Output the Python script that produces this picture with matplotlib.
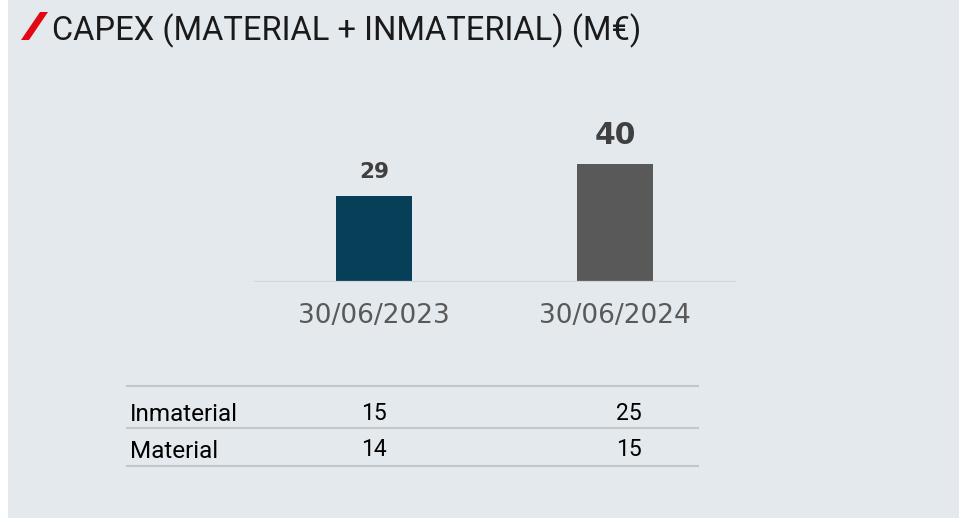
import matplotlib
matplotlib.use('Agg')
import matplotlib.pyplot as plt
from matplotlib import font_manager as fm
from matplotlib.patches import Rectangle, Polygon
from matplotlib.lines import Line2D

# datos
fechas = ['30/06/2023', '30/06/2024']
capex_total = [29, 40]
filas_tabla = ['Inmaterial', 'Material']
inmaterial = [15, 25]
material = [14, 15]

W, H = 959, 518


def fx(px):
    return px / W


def fy(py):
    return 1 - py / H


def fuente_titulo():
    # una fuente estrecha si existe, si no Roboto
    for nombre in ['Liberation Sans Narrow', 'Roboto']:
        try:
            fm.findfont(nombre, fallback_to_default=False)
            return nombre
        except Exception:
            pass
    return 'DejaVu Sans'


fig = plt.figure(figsize=(W / 100, H / 100), dpi=100)
fig.patch.set_facecolor('white')

# fondo gris claro
fig.patches.append(Rectangle((fx(8), 0), 1 - fx(8), 1, transform=fig.transFigure,
                             facecolor='#E4E9ED', edgecolor='none', zorder=-10))

# barra roja del título
fig.patches.append(Polygon([(fx(21), fy(40)), (fx(29), fy(40)), (fx(48), fy(12)), (fx(40), fy(12))],
                           closed=True, transform=fig.transFigure,
                           facecolor='#E30613', edgecolor='none', zorder=2))

tf = fuente_titulo()
tsize = 26 if tf == 'Liberation Sans Narrow' else 23.5
fig.text(fx(52), fy(40), 'CAPEX (MATERIAL + INMATERIAL) (M€)', family=[tf, 'DejaVu Sans'],
         fontsize=tsize, color='#1a1a1a', va='baseline', ha='left')

# ejes de barras
x = list(range(len(fechas)))
ax = fig.add_axes([fx(254), fy(281.5), fx(736) - fx(254), 146.6 / H])
ax.set_zorder(1)
ax.patch.set_alpha(0)
colores = ['#083F58', '#595959']
ax.bar(x, capex_total, width=0.315, color=colores, zorder=2)
ax.set_xlim((254 - 374) / 241, (736 - 374) / 241)
ax.set_ylim(0, 50)
ax.axis('off')
ax.axhline(0, color='#D3D6D9', lw=1.6, zorder=3)

tam_valor = [15.5, 21.5]
sep_valor = [18, 20]
for i, v in enumerate(capex_total):
    ax.annotate(str(v), xy=(x[i], v), xytext=(0, sep_valor[i]), textcoords='offset pixels',
                ha='center', va='baseline', fontsize=tam_valor[i], fontweight='bold',
                color='#404040', annotation_clip=False)
    ax.annotate(fechas[i], xy=(x[i], 0), xytext=(0, -41.5), textcoords='offset pixels',
                ha='center', va='baseline', fontsize=19, color='#595959',
                annotation_clip=False)

# tabla inferior
for py in [386, 428, 466]:
    fig.add_artist(Line2D([fx(127), fx(698)], [fy(py), fy(py)], transform=fig.transFigure,
                          color='#C4C7CA', lw=1.5))

col_x = [374, 629]
base_y = [421, 458]
for fila, vals, by in zip(filas_tabla, [inmaterial, material], base_y):
    fig.text(fx(130), fy(by), fila, family=['Roboto', 'DejaVu Sans'], fontsize=17.5,
             color='black', va='baseline', ha='left')
    for cx, v in zip(col_x, vals):
        fig.text(fx(cx), fy(by - 1.5), str(v), family=['Roboto', 'DejaVu Sans'], fontsize=16.5,
                 color='black', va='baseline', ha='center')

fig.savefig('out.png', dpi=100, facecolor=fig.get_facecolor())
